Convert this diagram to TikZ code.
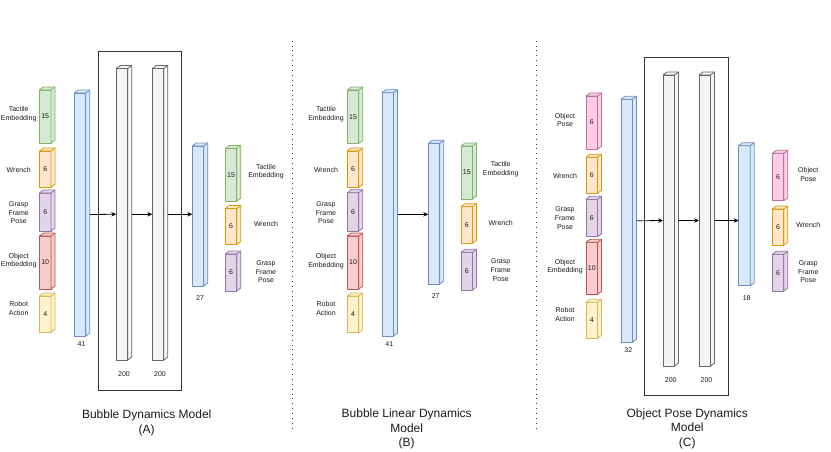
\documentclass[tikz,border=0pt]{standalone}
\usepackage{fontspec}
\setmainfont{Liberation Sans}
\usetikzlibrary{arrows.meta}
\definecolor{gF}{HTML}{D5E8D4}\definecolor{gS}{HTML}{82B366}
\definecolor{oF}{HTML}{FFE6CC}\definecolor{oS}{HTML}{D79B00}
\definecolor{pF}{HTML}{E1D5E7}\definecolor{pS}{HTML}{9673A6}
\definecolor{rF}{HTML}{F8CECC}\definecolor{rS}{HTML}{B85450}
\definecolor{yF}{HTML}{FFF2CC}\definecolor{yS}{HTML}{D6B656}
\definecolor{bF}{HTML}{DAE8FC}\definecolor{bS}{HTML}{6C8EBF}
\definecolor{hF}{HTML}{F5F5F5}\definecolor{hS}{HTML}{666666}
\definecolor{kF}{HTML}{FFCCE6}\definecolor{kS}{HTML}{B5739D}
\definecolor{txt}{HTML}{1A1A1A}
\tikzset{
  cgreen/.style={fill=gF,draw=gS},
  corange/.style={fill=oF,draw=oS},
  cpurple/.style={fill=pF,draw=pS},
  cred/.style={fill=rF,draw=rS},
  cyellow/.style={fill=yF,draw=yS},
  cblue/.style={fill=bF,draw=bS},
  cgray/.style={fill=hF,draw=hS},
  cpink/.style={fill=kF,draw=kS},
  blkbase/.style={line width=0.8pt,line join=round},
  lbl/.style={font=\fontsize{7}{8.8}\selectfont,text=txt,align=center,inner sep=0pt},
  ttl/.style={font=\fontsize{12}{14.5}\selectfont,text=txt,align=center,inner sep=0pt},
  arr/.style={line width=0.8pt,-{Stealth[length=5pt,width=4.5pt]}},
  frame/.style={line width=0.9pt,draw=black!80},
  sep/.style={line width=1pt,dash pattern=on 1pt off 3.9pt,draw=black!80}
}
% name, x-left, y-top, y-bottom, colour style, text
\newcommand\blk[6]{%
  \node[blkbase,#5,lbl,minimum width=11.5pt,minimum height={(#4-#3)*1pt},anchor=north west,outer sep=0pt] (#1) at (#2,#3) {#6};
  \draw[blkbase,#5] (#1.north west) -- ++(4,-3) -- ++(11.5,0) -- ++(0,#4-#3) -- (#1.south east) -- (#1.north east) -- cycle;
  \draw[blkbase,#5] (#1.north east) -- ++(4,-3);
}
\begin{document}
\begin{tikzpicture}[x=1pt,y=-1pt]
\useasboundingbox (0,0) rectangle (831,452);
% ---------------- Panel A ----------------
\node[draw,frame,minimum width=83.5pt,minimum height=338pt,anchor=north west,inner sep=0pt] (boxA) at (97.5,51.5) {};
\blk{tA}{39.5}{90}{143}{cgreen}{15}
\blk{wA}{39.5}{151}{187}{corange}{6}
\blk{gA}{39.5}{193}{231}{cpurple}{6}
\blk{oA}{39.5}{236}{289}{cred}{10}
\blk{rA}{39.5}{296}{332}{cyellow}{4}
\node[lbl] (ltA) at (18.7,114) {Tactile\\Embedding};
\node[lbl] (lwA) at (18.7,170) {Wrench};
\node[lbl] (lgA) at (18.7,212.7) {Grasp\\Frame\\Pose};
\node[lbl] (loA) at (18.7,260.7) {Object\\Embedding};
\node[lbl] (lrA) at (18.7,308.3) {Robot\\Action};
\blk{inA}{74.3}{93}{336}{cblue}{}
\node[lbl] (nInA) at (81.5,344) {41};
\blk{h1A}{116.3}{68.5}{360}{cgray}{}
\blk{h2A}{152.3}{68.5}{360}{cgray}{}
\node[lbl] (n1A) at (124,374) {200};
\node[lbl] (n2A) at (160,374) {200};
\blk{outA}{192.3}{146}{286}{cblue}{}
\node[lbl] (nOutA) at (200,298) {27};
\blk{otA}{225.3}{148.5}{201}{cgreen}{15}
\blk{owA}{225.3}{208.5}{244.5}{corange}{6}
\blk{ogA}{225.3}{254}{291}{cpurple}{6}
\node[lbl] (rtA) at (266,171.7) {Tactile\\Embedding};
\node[lbl] (rwA) at (266,224) {Wrench};
\node[lbl] (rgA) at (266,271.7) {Grasp\\Frame\\Pose};
\draw[arr] ([xshift=4pt]inA.east) -- (h1A.west);
\draw[arr] ([xshift=4pt]h1A.east) -- (h2A.west);
\draw[arr] ([xshift=4pt]h2A.east) -- (outA.west |- h2A.east);
\node[ttl] (tiA) at (146.7,423) {Bubble Dynamics Model\\(A)};
% separators
\coordinate (s1t) at (292.3,40.7); \coordinate (s1b) at (292.3,431);
\coordinate (s2t) at (536,40.7); \coordinate (s2b) at (536,431);
\draw[sep] (s1t) -- (s1b);
\draw[sep] (s2t) -- (s2b);
% ---------------- Panel B ----------------
\blk{tB}{347.3}{90}{143.3}{cgreen}{15}
\blk{wB}{347.3}{151}{187.3}{corange}{6}
\blk{gB}{347.3}{192.7}{231}{cpurple}{6}
\blk{oB}{347.3}{236}{289}{cred}{10}
\blk{rB}{347.3}{296}{332.7}{cyellow}{4}
\node[lbl] (ltB) at (326,114) {Tactile\\Embedding};
\node[lbl] (lwB) at (326,170) {Wrench};
\node[lbl] (lgB) at (326,212.7) {Grasp\\Frame\\Pose};
\node[lbl] (loB) at (326,261) {Object\\Embedding};
\node[lbl] (lrB) at (326,308.3) {Robot\\Action};
\blk{inB}{382}{92.7}{336}{cblue}{}
\node[lbl] (nInB) at (389.3,344) {41};
\blk{outB}{428.3}{143.3}{284}{cblue}{}
\node[lbl] (nOutB) at (435.7,296) {27};
\blk{otB}{461}{146}{199}{cgreen}{15}
\blk{owB}{461}{206.7}{243.3}{corange}{6}
\blk{ogB}{461}{252.3}{290}{cpurple}{6}
\node[lbl] (rtB) at (500.7,169.3) {Tactile\\Embedding};
\node[lbl] (rwB) at (500.7,223.3) {Wrench};
\node[lbl] (rgB) at (500.7,270) {Grasp\\Frame\\Pose};
\draw[arr] ([xshift=4pt]inB.east) -- (outB.west |- inB.east);
\node[ttl] (tiB) at (406.7,429) {Bubble Linear Dynamics\\Model\\(B)};
% ---------------- Panel C ----------------
\node[draw,frame,minimum width=83.2pt,minimum height=337.7pt,anchor=north west,inner sep=0pt] (boxC) at (644.3,57.3) {};
\blk{pC}{586}{96}{149}{cpink}{6}
\blk{wC}{586}{157.3}{193.3}{corange}{6}
\blk{gC}{586}{199.3}{236.7}{cpurple}{6}
\blk{oC}{586}{242.3}{294.3}{cred}{10}
\blk{rC}{586}{302.3}{338.3}{cyellow}{4}
\node[lbl] (lpC) at (565,120) {Object\\Pose};
\node[lbl] (lwC) at (565,176) {Wrench};
\node[lbl] (lgC) at (565,218.3) {Grasp\\Frame\\Pose};
\node[lbl] (loC) at (565,266.7) {Object\\Embedding};
\node[lbl] (lrC) at (565,314.3) {Robot\\Action};
\blk{inC}{621}{99.3}{342.3}{cblue}{}
\node[lbl] (nInC) at (628.3,350) {32};
\blk{h1C}{663}{75}{366}{cgray}{}
\blk{h2C}{699}{75}{366}{cgray}{}
\node[lbl] (n1C) at (670.7,380) {200};
\node[lbl] (n2C) at (706.5,380) {200};
\blk{outC}{738.7}{145.7}{285.7}{cblue}{}
\node[lbl] (nOutC) at (746.7,298.3) {18};
\blk{opC}{772.3}{153.3}{200.7}{cpink}{6}
\blk{owC}{772.3}{209}{245}{corange}{6}
\blk{ogC}{772.3}{254.3}{291}{cpurple}{6}
\node[lbl] (rpC) at (808.3,174.3) {Object\\Pose};
\node[lbl] (rwC) at (808.3,225) {Wrench};
\node[lbl] (rgC) at (808.3,271.7) {Grasp\\Frame\\Pose};
\draw[arr] ([xshift=4pt]inC.east) -- (h1C.west);
\draw[arr] ([xshift=4pt]h1C.east) -- (h2C.west);
\draw[arr] ([xshift=4pt]h2C.east) -- (outC.west |- h2C.east);
\node[ttl] (tiC) at (687.3,428.7) {Object Pose Dynamics\\Model\\(C)};
\end{tikzpicture}
\end{document}
